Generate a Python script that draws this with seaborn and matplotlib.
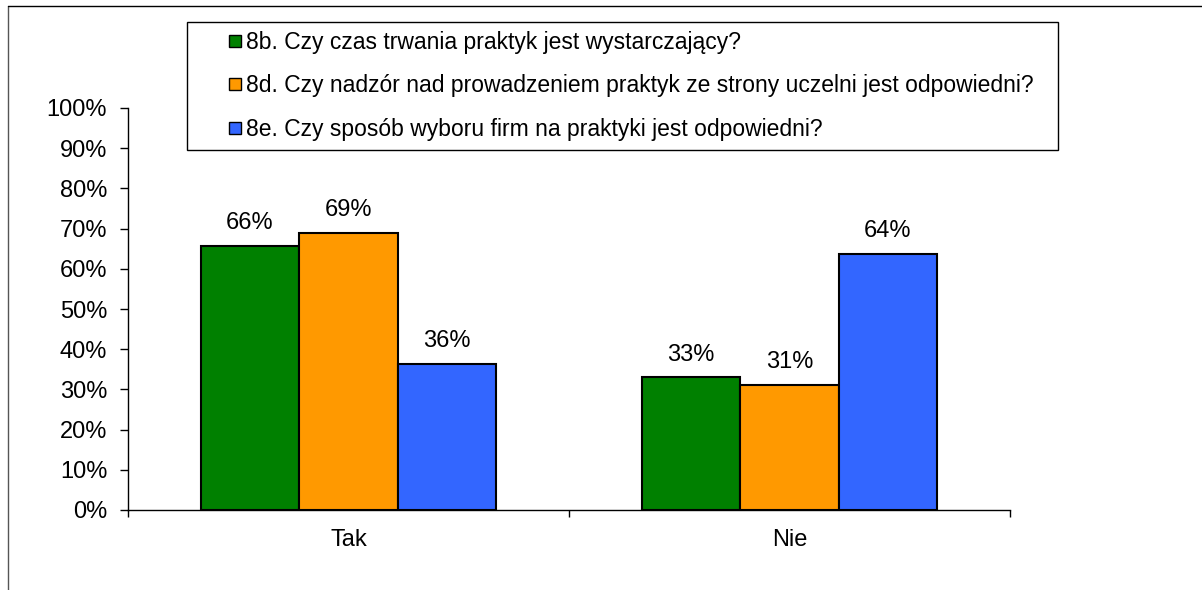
import matplotlib
matplotlib.use("Agg")
import matplotlib.pyplot as plt
import pandas as pd
import seaborn as sns
from matplotlib.lines import Line2D
from matplotlib.ticker import FuncFormatter

# ── Data ─────────────────────────────────────────────────────────────────────
categories = ["Tak", "Nie"]
series = [
    "8b. Czy czas trwania praktyk jest wystarczający?",
    "8d. Czy nadzór nad prowadzeniem praktyk ze strony uczelni jest odpowiedni?",
    "8e. Czy sposób wyboru firm na praktyki jest odpowiedni?",
]
values_8b = [65.7, 33.0]
values_8d = [68.9, 31.2]
values_8e = [36.3, 63.8]
colors = ["#008000", "#FF9900", "#3366FF"]
y_ticks = [0, 10, 20, 30, 40, 50, 60, 70, 80, 90, 100]

df = pd.DataFrame({
    "kategoria": categories * 3,
    "pytanie": [s for s in series for _ in categories],
    "wartosc": values_8b + values_8d + values_8e,
})

# ── Plot ─────────────────────────────────────────────────────────────────────
sns.set_theme(style="white")
plt.rcParams["font.family"] = ["Liberation Sans", "DejaVu Sans"]
plt.rcParams["text.color"] = "black"
plt.rcParams["xtick.color"] = "black"
plt.rcParams["ytick.color"] = "black"

W, H = 1202, 590
fig = plt.figure(figsize=(W / 100, H / 100), dpi=100)
ax = fig.add_axes([128 / W, (H - 510) / H, (1010 - 128) / W, (510 - 108) / H])

sns.barplot(
    data=df, x="kategoria", y="wartosc", hue="pytanie",
    order=categories, hue_order=series, palette=colors,
    width=0.67, gap=0, edgecolor="black", linewidth=1.5,
    saturation=1, ax=ax, legend=False,
)

for cont in ax.containers:
    ax.bar_label(cont, labels=[f"{v:.0f}%" for v in cont.datavalues],
                 padding=8.5, fontsize=17, color="black")

ax.set_xlim(-0.5, 1.5)
ax.set_ylim(0, 100)
ax.set_yticks(y_ticks)
ax.yaxis.set_major_formatter(FuncFormatter(lambda v, _: f"{v:.0f}%"))
ax.set_xticks([0, 1])
ax.set_xticks([-0.5, 0.5, 1.5], minor=True)
ax.tick_params(axis="x", which="major", length=0, pad=13.5, labelsize=17)
ax.tick_params(axis="x", which="minor", length=5, width=1, direction="out",
               bottom=True)
ax.tick_params(axis="y", length=6, width=1, direction="out",
               left=True, labelsize=17, pad=9)
ax.set_xlabel("")
ax.set_ylabel("")
for side in ["top", "right"]:
    ax.spines[side].set_visible(False)
for side in ["left", "bottom"]:
    ax.spines[side].set_color("black")
    ax.spines[side].set_linewidth(1)
ax.grid(False)

# legend box in figure pixels: x 187..1058, y 22..148
handles = [Line2D([], [], marker="s", linestyle="", markersize=9,
                  markerfacecolor=c, markeredgecolor="black", markeredgewidth=1)
           for c in colors]
leg = fig.legend(handles, series, loc="upper left", mode="expand",
                 bbox_to_anchor=(187 / W, 1 - 148 / H, 871 / W, 126 / H),
                 fontsize=16.5, frameon=True, fancybox=False, shadow=False,
                 edgecolor="black", handlelength=3.4, handletextpad=-1.22,
                 labelspacing=0.9, borderpad=0.38, borderaxespad=0,
                 framealpha=1)
leg.get_frame().set_linewidth(1)

# outer chart-area border (top and left)
fig.add_artist(Line2D([8 / W, 8 / W], [0, 1 - 6 / H], color="#555555", lw=1))
fig.add_artist(Line2D([8 / W, 1], [1 - 6 / H, 1 - 6 / H], color="black", lw=1))

fig.savefig("out.png", dpi=100)
